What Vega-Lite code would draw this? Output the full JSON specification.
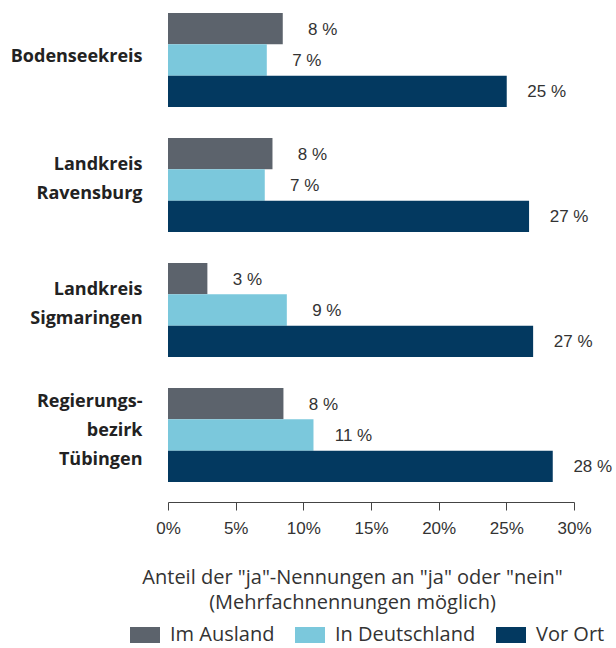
{
  "$schema": "https://vega.github.io/schema/vega-lite/v6.json",
  "width": 406,
  "height": 502,
  "autosize": {"type": "none"},
  "padding": {"left": 168, "top": 0, "right": 42, "bottom": 146},
  "background": "white",
  "config": {"view": {"stroke": null}},
  "data": {
    "values": [
      {"region": "Bodenseekreis", "typ": "Im Ausland", "wert": 8.48, "label": "8 %"},
      {"region": "Bodenseekreis", "typ": "In Deutschland", "wert": 7.3, "label": "7 %"},
      {"region": "Bodenseekreis", "typ": "Vor Ort", "wert": 25.03, "label": "25 %"},
      {"region": "Landkreis|Ravensburg", "typ": "Im Ausland", "wert": 7.72, "label": "8 %"},
      {"region": "Landkreis|Ravensburg", "typ": "In Deutschland", "wert": 7.15, "label": "7 %"},
      {"region": "Landkreis|Ravensburg", "typ": "Vor Ort", "wert": 26.68, "label": "27 %"},
      {"region": "Landkreis|Sigmaringen", "typ": "Im Ausland", "wert": 2.91, "label": "3 %"},
      {"region": "Landkreis|Sigmaringen", "typ": "In Deutschland", "wert": 8.78, "label": "9 %"},
      {"region": "Landkreis|Sigmaringen", "typ": "Vor Ort", "wert": 26.98, "label": "27 %"},
      {"region": "Regierungs-|bezirk|Tübingen", "typ": "Im Ausland", "wert": 8.53, "label": "8 %"},
      {"region": "Regierungs-|bezirk|Tübingen", "typ": "In Deutschland", "wert": 10.75, "label": "11 %"},
      {"region": "Regierungs-|bezirk|Tübingen", "typ": "Vor Ort", "wert": 28.43, "label": "28 %"}
    ]
  },
  "encoding": {
    "y": {
      "field": "region",
      "type": "nominal",
      "sort": null,
      "scale": {"paddingInner": 0.248, "paddingOuter": 0.132, "align": 0.394},
      "axis": {
        "title": null,
        "domain": false,
        "ticks": false,
        "labelPadding": 26,
        "labelOffset": {
          "condition": [
            {"test": "indexof(datum.value, 'Regierungs') >= 0", "value": -33},
            {"test": "indexof(datum.value, '|') >= 0", "value": -20}
          ],
          "value": -3
        },
        "labelExpr": "split(datum.value, '|')",
        "labelFont": "Open Sans",
        "labelFontWeight": "bold",
        "labelFontSize": 18,
        "labelLineHeight": 29,
        "labelColor": "#222222",
        "labelAlign": "right",
        "labelBaseline": "middle",
        "labelLimit": 0
      }
    },
    "yOffset": {
      "field": "typ",
      "type": "nominal",
      "sort": ["Im Ausland", "In Deutschland", "Vor Ort"],
      "scale": {"paddingInner": 0, "paddingOuter": 0}
    },
    "x": {
      "field": "wert",
      "type": "quantitative",
      "scale": {"domain": [0, 30], "nice": false},
      "axis": {
        "values": [0, 5, 10, 15, 20, 25, 30],
        "labelExpr": "datum.value + '%'",
        "labelFlush": false,
        "grid": false,
        "domainColor": "#444444",
        "tickColor": "#444444",
        "tickSize": 8,
        "labelFont": "Liberation Sans",
        "labelFontSize": 17,
        "labelColor": "#333333",
        "labelPadding": 10,
        "title": ["Anteil der \"ja\"-Nennungen an \"ja\" oder \"nein\"", "(Mehrfachnennungen möglich)"],
        "titleFont": "Open Sans",
        "titleFontWeight": "normal",
        "titleFontSize": 20,
        "titleLineHeight": 25,
        "titleColor": "#333333",
        "titlePadding": 31,
        "titleX": 184,
        "titleAnchor": "middle"
      }
    }
  },
  "layer": [
    {
      "mark": {"type": "bar"},
      "encoding": {
        "color": {
          "field": "typ",
          "type": "nominal",
          "scale": {
            "domain": ["Im Ausland", "In Deutschland", "Vor Ort"],
            "range": ["#5c636c", "#7bc8dc", "#033960"]
          },
          "legend": {
            "title": null,
            "orient": "none",
            "direction": "horizontal",
            "legendX": -38,
            "legendY": 620,
            "padding": 0,
            "symbolType": "M-1,-0.533L1,-0.533L1,0.533L-1,0.533Z",
            "symbolSize": 900,
            "symbolStrokeWidth": 0,
            "symbolOpacity": 1,
            "labelFont": "Open Sans",
            "labelFontSize": 20,
            "labelColor": "#333333",
            "labelOffset": 10,
            "columnPadding": 20,
            "labelLimit": 0
          }
        }
      }
    },
    {
      "mark": {
        "type": "text",
        "align": "center",
        "baseline": "middle",
        "dx": 40,
        "dy": 1,
        "font": "Liberation Sans",
        "fontSize": 17,
        "color": "#333333"
      },
      "encoding": {
        "text": {"field": "label", "type": "nominal"}
      }
    }
  ]
}
